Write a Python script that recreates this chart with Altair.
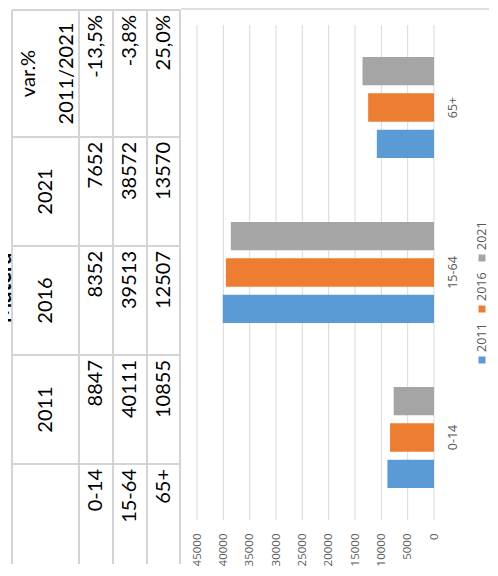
import altair as alt
import pandas as pd

# ---------------- data ----------------
title_text = "Matera"
ages = ["0-14", "15-64", "65+"]
years = ["2011", "2016", "2021"]
pop_2011 = [8847, 40111, 10855]
pop_2016 = [8352, 39513, 12507]
pop_2021 = [7652, 38572, 13570]
var_header = "var.%\n2011/2021"
var_labels = ["-13,5%", "-3,8%", "25,0%"]
x_ticks = [0, 5000, 10000, 15000, 20000, 25000, 30000, 35000, 40000, 45000]
year_colors = ["#5b9bd5", "#ed7d31", "#a5a5a5"]

# ---------------- layout / style (view pixels) ----------------
W, H = 426, 512                      # view: y-axis at right edge, x-axis at bottom edge
X_EDGES = [4, 71, 105, 139, 172]     # table strip borders
Y_EDGES = [2, 129, 238, 347, 456, 556]
PLOT_X = [426, 189]                  # value 0 -> right, 45000 -> left
PLOT_Y = [17, 512]
LINE = "#d4d4d4"
GRID = "#d9d9d9"
TFONT = "Lato"
AFONT = "Open Sans"
ACOLOR = "#595959"

series = {"2011": pop_2011, "2016": pop_2016, "2021": pop_2021}
col_of = {"var": 0, "2021": 1, "2016": 2, "2011": 3, "label": 4}

xsc = alt.Scale(domain=list(range(5)), range=X_EDGES, nice=False, zero=False)
ysc = alt.Scale(domain=list(range(6)), range=Y_EDGES, nice=False, zero=False)

# ---------------- table ----------------
vlines = pd.DataFrame({"e": list(range(5)), "a": 0, "b": 5})
hlines = pd.DataFrame({"e": list(range(5)), "a": 0, "b": 4})

v_rule = alt.Chart(vlines).mark_rule(color=LINE, strokeWidth=2).encode(
    x=alt.X("e:Q", scale=xsc, axis=None),
    y=alt.Y("a:Q", scale=ysc, axis=None),
    y2="b:Q",
)
h_rule = alt.Chart(hlines).mark_rule(color=LINE, strokeWidth=2).encode(
    x=alt.X("a:Q", scale=xsc, axis=None),
    x2="b:Q",
    y=alt.Y("e:Q", scale=ysc, axis=None),
)

hdr_df = pd.DataFrame([{"strip": 0, "col": col_of[y], "label": y} for y in years])
var_hdr_df = pd.DataFrame([{"strip": 0, "col": col_of["var"], "label": var_header}])

val_rows = []
for i, a in enumerate(ages):
    for y in years:
        val_rows.append({"strip": i + 1, "col": col_of[y], "label": str(series[y][i])})
    val_rows.append({"strip": i + 1, "col": col_of["var"], "label": var_labels[i]})
    val_rows.append({"strip": i + 1, "col": col_of["label"], "label": a})
val_df = pd.DataFrame(val_rows)

text_style = dict(angle=270, font=TFONT, fontSize=20, color="#000000")

hdr_text = alt.Chart(hdr_df).transform_calculate(
    xc="datum.strip + 0.5", yc="datum.col + 0.5"
).mark_text(align="center", baseline="middle", **text_style).encode(
    x=alt.X("xc:Q", scale=xsc, axis=None),
    y=alt.Y("yc:Q", scale=ysc, axis=None),
    text="label:N",
)

var_hdr_text = alt.Chart(var_hdr_df).transform_calculate(
    xc="datum.strip + 0.5", yc="datum.col + 0.5"
).mark_text(
    align="center", baseline="middle", lineBreak="\n", lineHeight=38, dy=-17,
    **text_style
).encode(
    x=alt.X("xc:Q", scale=xsc, axis=None),
    y=alt.Y("yc:Q", scale=ysc, axis=None),
    text="label:N",
)

val_text = alt.Chart(val_df).transform_calculate(
    xc="datum.strip + 0.5"
).mark_text(align="right", baseline="middle", dx=-5, **text_style).encode(
    x=alt.X("xc:Q", scale=xsc, axis=None),
    y=alt.Y("col:Q", scale=ysc, axis=None),
    text="label:N",
)

title_mark = alt.Chart(pd.DataFrame({"t": [title_text]})).mark_text(
    angle=270, align="center", baseline="alphabetic", font=TFONT, fontSize=22,
    fontWeight="bold", color="#000000", clip=True,
).encode(x=alt.value(3), y=alt.value(280), text="t:N")

table = alt.layer(h_rule, v_rule, hdr_text, var_hdr_text, val_text, title_mark)

# ---------------- bar chart ----------------
bdf = pd.DataFrame(
    [{"age": a, "year": y, "value": series[y][i]} for y in years for i, a in enumerate(ages)]
)
vsc = alt.Scale(domain=[0, 45000], range=PLOT_X, nice=False, zero=False)

grid = alt.Chart(pd.DataFrame({"tick": x_ticks})).mark_rule(
    color=GRID, strokeWidth=1
).encode(
    x=alt.X("tick:Q", scale=vsc),
    y=alt.value(PLOT_Y[0]),
    y2=alt.value(PLOT_Y[1]),
)

bars = alt.Chart(bdf).mark_bar().encode(
    x=alt.X(
        "value:Q",
        scale=vsc,
        axis=alt.Axis(
            orient="bottom", values=x_ticks, grid=False, domain=False, ticks=False,
            labelAngle=270, labelAlign="right", labelBaseline="middle",
            labelPadding=13, labelFont=AFONT, labelFontSize=11.5,
            labelColor=ACOLOR, title=None, format="d",
            labelFlush=False, labelOverlap=False,
        ),
    ),
    y=alt.Y(
        "age:N",
        sort=ages[::-1],
        scale=alt.Scale(range=PLOT_Y, paddingInner=0.35, paddingOuter=0.175),
        axis=alt.Axis(
            orient="right", domain=False, ticks=False, labelAngle=270,
            labelAlign="center", labelBaseline="top", labelPadding=12,
            labelFont=AFONT, labelFontSize=12.5, labelColor=ACOLOR, title=None,
        ),
    ),
    yOffset=alt.YOffset(
        "year:N", sort=years[::-1],
        scale=alt.Scale(paddingInner=0.22, paddingOuter=0.085),
    ),
    color=alt.Color("year:N", scale=alt.Scale(domain=years, range=year_colors), legend=None),
)

one = pd.DataFrame({"k": [0]})
frame = alt.Chart(one).mark_rule(color=LINE, strokeWidth=1.5).encode(
    x=alt.value(173), x2=alt.value(481), y=alt.value(1)
)

LEG_X, LEG_Y0, LEG_PITCH = 474, 352, 51
legend_layers = []
for k, (yr, colr) in enumerate(zip(years, year_colors)):
    yc = LEG_Y0 - k * LEG_PITCH
    ldf = pd.DataFrame({"year": [yr]})
    legend_layers.append(
        alt.Chart(ldf).mark_square(size=49, color=colr, opacity=1).encode(
            x=alt.value(LEG_X), y=alt.value(yc)
        )
    )
    legend_layers.append(
        alt.Chart(ldf).mark_text(
            angle=270, align="left", baseline="middle", dx=8, font=AFONT,
            fontSize=12.5, color=ACOLOR,
        ).encode(x=alt.value(LEG_X), y=alt.value(yc), text="year:N")
    )

barchart = alt.layer(grid, bars, frame, *legend_layers)

chart = (
    alt.layer(table, barchart)
    .resolve_scale(x="independent", y="independent")
    .properties(width=W, height=H, padding=0)
    .configure_view(stroke="transparent")
)

chart.save("out.html", embed_options={"renderer": "svg", "actions": False})
